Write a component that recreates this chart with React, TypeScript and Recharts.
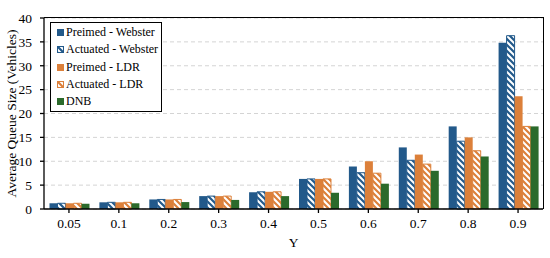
import React from "react";
import {
  BarChart,
  Bar,
  XAxis,
  YAxis,
  CartesianGrid,
  Legend,
} from "recharts";

const categories = ["0.05", "0.1", "0.2", "0.3", "0.4", "0.5", "0.6", "0.7", "0.8", "0.9"];
const preimedWebster = [1.2, 1.4, 2.0, 2.7, 3.5, 6.3, 8.9, 12.9, 17.3, 34.8];
const actuatedWebster = [1.2, 1.4, 2.0, 2.7, 3.6, 6.3, 7.6, 10.2, 14.2, 36.3];
const preimedLDR = [1.2, 1.4, 2.0, 2.7, 3.6, 6.3, 10.0, 11.4, 15.0, 23.6];
const actuatedLDR = [1.2, 1.4, 2.0, 2.7, 3.6, 6.3, 7.5, 9.4, 12.2, 17.3];
const dnb = [1.1, 1.2, 1.45, 1.9, 2.7, 3.4, 5.3, 8.0, 11.0, 17.3];
const yTicks = [0, 5, 10, 15, 20, 25, 30, 35, 40];

const BLUE = "#22598a";
const ORANGE = "#dc803a";
const GREEN = "#2b6a2b";

const data = categories.map((c, i) => ({
  y: c,
  pw: preimedWebster[i],
  aw: actuatedWebster[i],
  pl: preimedLDR[i],
  al: actuatedLDR[i],
  dnb: dnb[i],
}));

const series = [
  { key: "pw", name: "Preimed - Webster", fill: BLUE, stroke: BLUE },
  { key: "aw", name: "Actuated - Webster", fill: "url(#hatchBlue)", stroke: BLUE },
  { key: "pl", name: "Preimed - LDR", fill: ORANGE, stroke: ORANGE },
  { key: "al", name: "Actuated - LDR", fill: "url(#hatchOrange)", stroke: ORANGE },
  { key: "dnb", name: "DNB", fill: GREEN, stroke: GREEN },
];

const font = "Liberation Serif, Times New Roman, serif";
const W = 550;
const H = 258;
const M = { top: 18, right: 7, left: 14, bottom: 9 };
const Y_W = 30;
const X_H = 40;
const LEG = { left: 50, top: 22 };

function LegendBox() {
  const plotW = W - M.left - Y_W - M.right;
  const plotH = H - M.top - M.bottom - X_H;
  return (
    <div style={{ position: "relative" }}>
      {/* plot frame: top and right edges, placed relative to the legend */}
      <div
        style={{
          position: "absolute",
          left: M.left + Y_W - LEG.left,
          top: M.top - LEG.top - 0.75,
          width: plotW + 0.75,
          height: plotH + 0.75,
          borderTop: "1.5px solid #000",
          borderRight: "1.5px solid #000",
          boxSizing: "border-box",
          pointerEvents: "none",
        }}
      />
      <div
        style={{
          position: "relative",
          border: "1.5px solid #000",
          background: "#fff",
          padding: "1px 3px 1px 6px",
          fontFamily: font,
          fontSize: 12,
          color: "#000",
          whiteSpace: "nowrap",
        }}
      >
        {series.map((s) => (
          <div key={s.key} style={{ display: "flex", alignItems: "center", height: 17.3 }}>
            <svg width={7} height={7} style={{ marginRight: 2 }}>
              <rect x={0.5} y={0.5} width={6} height={6} fill={s.fill} stroke={s.stroke} strokeWidth={1} />
            </svg>
            <span style={{ fontFamily: font }}>{s.name}</span>
          </div>
        ))}
      </div>
    </div>
  );
}

export default function App() {
  return (
    <div style={{ position: "fixed", left: 0, top: 0, width: W, height: H, background: "#fff", fontFamily: font }}>
      <svg width={0} height={0} style={{ position: "absolute" }}>
        <defs>
          <pattern id="hatchBlue" patternUnits="userSpaceOnUse" width={6} height={6}>
            <rect width={6} height={6} fill="#fff" />
            <path d="M0,0 L6,6 M-1.5,4.5 L1.5,7.5 M4.5,-1.5 L7.5,1.5" stroke={BLUE} strokeWidth={2.2} />
          </pattern>
          <pattern id="hatchOrange" patternUnits="userSpaceOnUse" width={6} height={6}>
            <rect width={6} height={6} fill="#fff" />
            <path d="M0,0 L6,6 M-1.5,4.5 L1.5,7.5 M4.5,-1.5 L7.5,1.5" stroke={ORANGE} strokeWidth={2.2} />
          </pattern>
        </defs>
      </svg>
      <BarChart
        width={W}
        height={H}
        data={data}
        margin={M}
        barCategoryGap="11%"
        barGap={0}
      >
        <CartesianGrid vertical={false} stroke="#d4d4d4" strokeDasharray="4 3" />
        <XAxis
          dataKey="y"
          height={X_H}
          stroke="#000"
          strokeWidth={1.3}
          tickSize={4}
          tickMargin={5}
          tick={{ fontSize: 13.5, fill: "#000", fontFamily: font }}
          label={{ value: "Y", position: "insideBottom", offset: 2, fontSize: 13.5, fill: "#000", fontFamily: font }}
        />
        <YAxis
          width={Y_W}
          domain={[0, 40]}
          ticks={yTicks}
          stroke="#000"
          strokeWidth={1.3}
          tickSize={4}
          tickMargin={8}
          tick={{ fontSize: 13.5, fill: "#000", fontFamily: font }}
          label={{
            value: "Average Queue Size (Vehicles)",
            angle: -90,
            position: "insideLeft",
            offset: -3,
            style: { textAnchor: "middle" },
            fontSize: 13.5,
            fill: "#000",
            fontFamily: font,
          }}
        />
        <Legend
          layout="vertical"
          align="center"
          verticalAlign="middle"
          wrapperStyle={{ left: LEG.left, top: LEG.top, width: "auto", height: "auto" }}
          content={() => <LegendBox />}
        />
        {series.map((s) => (
          <Bar
            key={s.key}
            dataKey={s.key}
            name={s.name}
            fill={s.fill}
            stroke={s.stroke}
            strokeWidth={s.key === "aw" || s.key === "al" ? 1 : 0}
            isAnimationActive={false}
          />
        ))}
      </BarChart>
    </div>
  );
}
